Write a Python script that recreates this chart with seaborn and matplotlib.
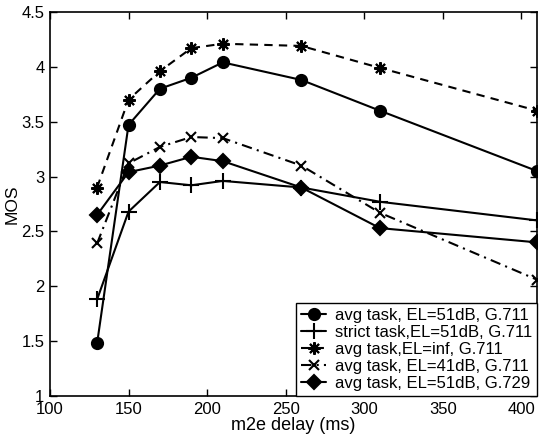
import matplotlib
matplotlib.use("Agg")
import matplotlib.pyplot as plt
import seaborn as sns
import pandas as pd

delay = [130, 150, 170, 190, 210, 260, 310, 410]
labels = ["avg task, EL=51dB, G.711",
          "strict task,EL=51dB, G.711",
          "avg task,EL=inf, G.711",
          "avg task, EL=41dB, G.711",
          "avg task, EL=51dB, G.729"]
mos_avg51_711 = [1.48, 3.47, 3.80, 3.90, 4.04, 3.88, 3.60, 3.05]
mos_strict51_711 = [1.88, 2.68, 2.95, 2.92, 2.96, 2.90, 2.77, 2.60]
mos_avginf_711 = [2.90, 3.70, 3.96, 4.17, 4.21, 4.19, 3.99, 3.60]
mos_avg41_711 = [2.39, 3.12, 3.27, 3.36, 3.35, 3.10, 2.67, 2.06]
mos_avg51_729 = [2.65, 3.04, 3.10, 3.18, 3.14, 2.90, 2.53, 2.40]
series = [mos_avg51_711, mos_strict51_711, mos_avginf_711, mos_avg41_711, mos_avg51_729]

styles = [
    dict(marker="o", ls="-", ms=8),
    dict(marker="+", ls="-", ms=11),
    dict(marker=(8, 2, 0), ls=(0, (4, 3)), ms=9),
    dict(marker="x", ls=(0, (5, 2.5, 1, 2.5)), ms=7),
    dict(marker="D", ls="-", ms=7),
]

sns.set_style("ticks")
plt.rcParams["font.family"] = ["Liberation Sans", "DejaVu Sans"]
plt.rcParams["text.color"] = "black"
plt.rcParams["axes.labelcolor"] = "black"

fig = plt.figure(figsize=(5.43, 4.41), dpi=100)
ax = fig.add_axes([0.092, 0.102, 0.897, 0.871])

for lab, vals, st in zip(labels, series, styles):
    df = pd.DataFrame({"delay": delay, "MOS": vals})
    sns.lineplot(data=df, x="delay", y="MOS", ax=ax, color="black",
                 marker=st["marker"], linestyle=st["ls"], markersize=st["ms"],
                 markeredgewidth=1.5, markeredgecolor="black",
                 linewidth=1.5, label=lab)

ax.set_xlim(100, 410)
ax.set_ylim(1, 4.5)
ax.set_xticks([100, 150, 200, 250, 300, 350, 400])
ax.set_yticks([1, 1.5, 2, 2.5, 3, 3.5, 4, 4.5])
ax.set_yticklabels(["1", "1.5", "2", "2.5", "3", "3.5", "4", "4.5"])
ax.tick_params(direction="in", length=5, width=1, top=True, right=True,
               labelsize=12, color="black", labelcolor="black")
ax.tick_params(axis="y", pad=4)
ax.tick_params(axis="x", pad=4)
for s in ax.spines.values():
    s.set_visible(True)
    s.set_linewidth(1.2)
    s.set_color("black")
ax.set_xlabel("m2e delay (ms)", fontsize=13, labelpad=0)
ax.set_ylabel("MOS", fontsize=12.5, labelpad=1)

leg = ax.legend(loc="lower right", fontsize=12, frameon=True, fancybox=False,
                edgecolor="black", framealpha=1, borderpad=0.3, labelspacing=0.12,
                handlelength=1.5, handletextpad=0.5, borderaxespad=0.0)
leg.get_frame().set_linewidth(1.0)

fig.savefig("out.png", dpi=100)
